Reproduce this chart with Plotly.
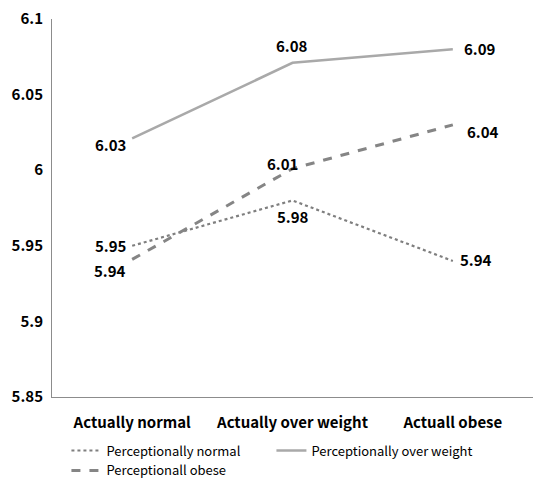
import plotly.graph_objects as go

categories = ["Actually normal", "Actually over weight", "Actuall obese"]
y_ticks = [5.85, 5.9, 5.95, 6, 6.05, 6.1]
y_tick_text = ["5.85", "5.9", "5.95", "6", "6.05", "6.1"]

normal_name = "Perceptionally normal"
normal_values = [5.95, 5.98, 5.94]
normal_labels = ["5.95", "5.98", "5.94"]

over_name = "Perceptionally over weight"
over_values = [6.021, 6.071, 6.080]
over_labels = ["6.03", "6.08", "6.09"]

obese_name = "Perceptionall obese"
obese_values = [5.941, 6.001, 6.030]
obese_labels = ["5.94", "6.01", "6.04"]

FONT = "Noto Sans CJK KR"

series = [
    dict(name=normal_name, values=normal_values, labels=normal_labels,
         line=dict(color="#7f7f7f", width=2.2, dash="dot"),
         anchors=[("right", -3, 0), ("center", 0, -16), ("left", 5, 1)]),
    dict(name=over_name, values=over_values, labels=over_labels,
         line=dict(color="#a9a9a9", width=2.5, dash="solid"),
         anchors=[("right", -4, -6), ("center", -1, 17), ("left", 9, 1)]),
    dict(name=obese_name, values=obese_values, labels=obese_labels,
         line=dict(color="#858585", width=3, dash="dash"),
         anchors=[("right", -4, -11), ("center", -10, 5), ("left", 12, -7)]),
]

fig = go.Figure()
annotations = []
for s in series:
    fig.add_trace(go.Scatter(x=categories, y=s["values"], name=s["name"],
                             mode="lines", line=s["line"]))
    for c, v, t, (xa, xs, ys) in zip(categories, s["values"], s["labels"], s["anchors"]):
        annotations.append(dict(x=c, y=v, text=t, showarrow=False,
                                xanchor=xa, yanchor="middle", xshift=xs, yshift=ys,
                                font=dict(family=FONT, size=15, color="#000000", weight="bold")))

# page body has an 8px margin, so the figure is drawn 8px in and shrunk to fit
fig.update_layout(
    width=538, height=476,
    margin=dict(l=44, r=13, t=11, b=87, autoexpand=False),
    paper_bgcolor="white", plot_bgcolor="white",
    font=dict(family=FONT, color="#000000"),
    annotations=annotations,
    showlegend=True,
    legend=dict(orientation="h", x=0.03, xanchor="left", y=-0.102, yanchor="top",
                entrywidth=160, entrywidthmode="pixels",
                font=dict(family=FONT, size=13, color="#000000"),
                tracegroupgap=0, itemwidth=30),
)
fig.update_xaxes(range=[-0.5, 2.5], showline=True, linecolor="#8c8c8c", linewidth=1,
                 showgrid=False, ticks="", ticklabelstandoff=12,
                 tickfont=dict(family=FONT, size=15, color="#000000", weight="bold"))
fig.update_yaxes(range=[5.85, 6.1], tickvals=y_ticks, ticktext=y_tick_text,
                 showline=True, linecolor="#8c8c8c", linewidth=1, showgrid=False,
                 zeroline=False, ticks="", ticklabelstandoff=5, ticklabeloverflow="allow",
                 tickfont=dict(family=FONT, size=15, color="#000000", weight="bold"))

fig.write_html("out.html")
